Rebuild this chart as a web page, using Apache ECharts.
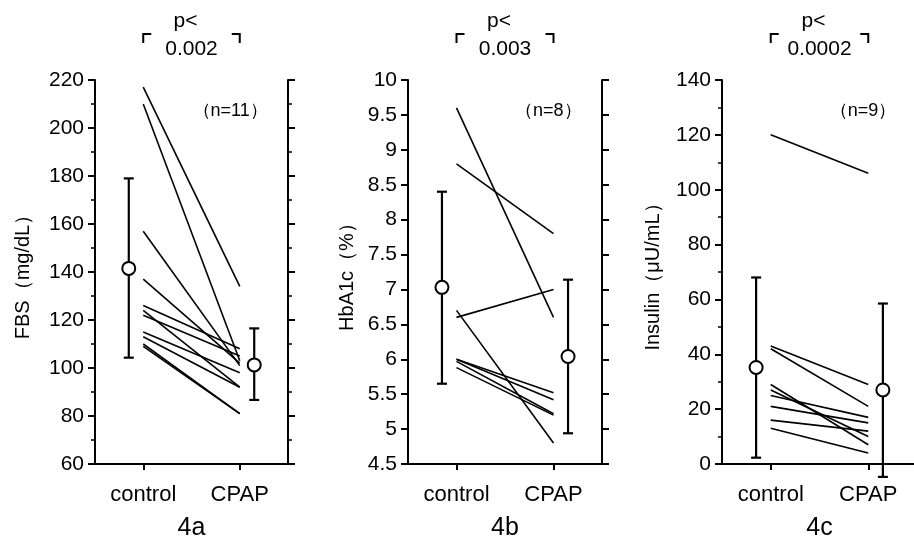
<!DOCTYPE html>
<html>
<head>
<meta charset="utf-8">
<script src="https://cdn.jsdelivr.net/npm/echarts@6/dist/echarts.min.js"></script>
<style>
  html, body { margin: 0; padding: 0; background: #fff; }
  #chart { width: 914px; height: 537px; }
</style>
</head>
<body>
<div id="chart"></div>
<script>
// x positions: subjects at 1 (control) and 2 (CPAP), mean +- SD drawn a bit outside
const xCats = ['control', 'CPAP']
const meanX = [0.85, 2.15]

// 4a FBS (mg/dL)
const fbsControl = [217, 210, 157, 137, 126, 124, 122, 115, 113, 110, 109]
const fbsCpap = [134, 103, 101, 102, 108, 92, 105, 98, 92, 81, 81]
const fbsMean = [141.5, 101.3]
const fbsHigh = [179, 116.5]
const fbsLow = [104.3, 86.7]

// 4b HbA1c (%)
const hbControl = [9.6, 8.8, 6.6, 6.7, 6.0, 6.0, 5.97, 5.88]
const hbCpap = [6.6, 7.8, 7.0, 4.8, 5.52, 5.42, 5.22, 5.2]
const hbMean = [7.03, 6.04]
const hbHigh = [8.4, 7.14]
const hbLow = [5.65, 4.94]

// 4c Insulin (uU/mL)
const insControl = [120, 43, 42, 29, 27, 25, 21, 16, 13]
const insCpap = [106, 29, 21, 7, 10, 17, 15, 12, 4]
const insMean = [35.2, 27]
const insHigh = [68, 58.5]
const insLow = [2.3, -4.7]

const pValues = ['0.002', '0.003', '0.0002']
const nLabels = ['（n=11）', '（n=8）', '（n=9）']
const panelNames = ['4a', '4b', '4c']
const yNames = ['FBS（mg/dL）', 'HbA1c（%）', 'Insulin（μU/mL）']
const yRanges = [[60, 220, 20], [4.5, 10, 0.5], [0, 140, 20]]

const FONT = '"Liberation Sans", Arial, sans-serif'
const grids = [
  { left: 95, top: 80, width: 193, height: 384, outerBoundsMode: 'none' },
  { left: 408, top: 80, width: 194, height: 384, outerBoundsMode: 'none' },
  { left: 722, top: 80, width: 195, height: 384, outerBoundsMode: 'none' }
]
const nameGaps = [62, 51, 59]

const panels = [
  { ctrl: fbsControl, cpap: fbsCpap, mean: fbsMean, hi: fbsHigh, lo: fbsLow, minor: true },
  { ctrl: hbControl, cpap: hbCpap, mean: hbMean, hi: hbHigh, lo: hbLow, minor: false },
  { ctrl: insControl, cpap: insCpap, mean: insMean, hi: insHigh, lo: insLow, minor: true }
]

const xAxis = []
const yAxis = []
const series = []

panels.forEach((p, i) => {
  xAxis.push({
    type: 'value',
    gridIndex: i,
    min: 0.5,
    max: 2.5,
    name: panelNames[i],
    nameLocation: 'middle',
    nameGap: 52,
    nameTextStyle: { fontSize: 25, color: '#000', fontFamily: FONT },
    splitLine: { show: false },
    axisLine: { lineStyle: { color: '#000', width: 2 } },
    axisTick: { customValues: [1, 2], length: 6, lineStyle: { color: '#000', width: 2 } },
    axisLabel: {
      customValues: [1, 2],
      formatter: v => xCats[Math.round(v) - 1],
      margin: 20,
      fontSize: 22,
      color: '#000',
      fontFamily: FONT
    }
  })
  const [ymin, ymax, step] = yRanges[i]
  const common = {
    type: 'value',
    gridIndex: i,
    min: ymin,
    max: ymax,
    interval: step,
    splitLine: { show: false },
    axisLine: { show: true, lineStyle: { color: '#000', width: 2 } },
    axisTick: { show: true, length: 7, lineStyle: { color: '#000', width: 2 } },
    minorTick: { show: p.minor, splitNumber: 2, length: 4, lineStyle: { color: '#000', width: 1.5 } }
  }
  yAxis.push(Object.assign({}, common, {
    position: 'left',
    name: yNames[i],
    nameLocation: 'middle',
    nameGap: nameGaps[i],
    nameTextStyle: { fontSize: 20, color: '#000', fontFamily: FONT },
    axisLabel: { fontSize: 21, color: '#000', fontFamily: FONT, margin: 11 }
  }))
  // right-hand frame axis (the one for 4c falls at the picture's edge)
  yAxis.push(Object.assign({}, common, {
    position: 'right',
    show: i < 2,
    axisLabel: { show: false }
  }))

  // individual subjects
  p.ctrl.forEach((c, k) => {
    series.push({
      type: 'line',
      xAxisIndex: i,
      yAxisIndex: 2 * i,
      data: [[1, c], [2, p.cpap[k]]],
      symbol: 'none',
      silent: true,
      lineStyle: { color: '#000', width: 1.6 }
    })
  })

  // mean +- SD bars
  series.push({
    type: 'custom',
    xAxisIndex: i,
    yAxisIndex: 2 * i,
    clip: false,
    z: 3,
    data: meanX.map((x, k) => [x, p.hi[k], p.lo[k]]),
    renderItem: (params, api) => {
      const top = api.coord([api.value(0), api.value(1)])
      const bot = api.coord([api.value(0), api.value(2)])
      const w = 5
      const st = { stroke: '#000', lineWidth: 2.2 }
      return {
        type: 'group',
        children: [
          { type: 'line', shape: { x1: top[0], y1: top[1], x2: bot[0], y2: bot[1] }, style: st },
          { type: 'line', shape: { x1: top[0] - w, y1: top[1], x2: top[0] + w, y2: top[1] }, style: st },
          { type: 'line', shape: { x1: bot[0] - w, y1: bot[1], x2: bot[0] + w, y2: bot[1] }, style: st }
        ]
      }
    }
  })
  series.push({
    type: 'scatter',
    xAxisIndex: i,
    yAxisIndex: 2 * i,
    z: 4,
    symbol: 'circle',
    symbolSize: 13,
    itemStyle: { color: '#fff', borderColor: '#000', borderWidth: 2, opacity: 1 },
    data: meanX.map((x, k) => [x, p.mean[k]])
  })
})

const chart = echarts.init(document.getElementById('chart'), null, { renderer: 'canvas' })
chart.setOption({
  backgroundColor: '#fff',
  animation: false,
  grid: grids,
  xAxis,
  yAxis,
  series
})

// p-value brackets and n labels above each panel
const graphic = []
panels.forEach((p, i) => {
  const x1 = chart.convertToPixel({ xAxisIndex: i }, 1)
  const x2 = chart.convertToPixel({ xAxisIndex: i }, 2)
  const mid = (x1 + x2) / 2
  const bs = { stroke: '#000', lineWidth: 2, fill: null }
  graphic.push(
    { type: 'polyline', shape: { points: [[x1, 43], [x1, 34], [x1 + 8, 34]] }, style: bs },
    { type: 'polyline', shape: { points: [[x2 - 8, 34], [x2, 34], [x2, 43]] }, style: bs },
    { type: 'text', x: mid - 6, y: 21, style: { text: 'p<', font: '21px ' + FONT, fill: '#000', textAlign: 'center', textVerticalAlign: 'middle' } },
    { type: 'text', x: mid, y: 49, style: { text: pValues[i], font: '21px ' + FONT, fill: '#000', textAlign: 'center', textVerticalAlign: 'middle' } },
    { type: 'text', x: x2 + 28, y: 111, style: { text: nLabels[i], font: '18px ' + FONT, fill: '#000', textAlign: 'right', textVerticalAlign: 'middle' } }
  )
})
chart.setOption({ graphic })
</script>
</body>
</html>
